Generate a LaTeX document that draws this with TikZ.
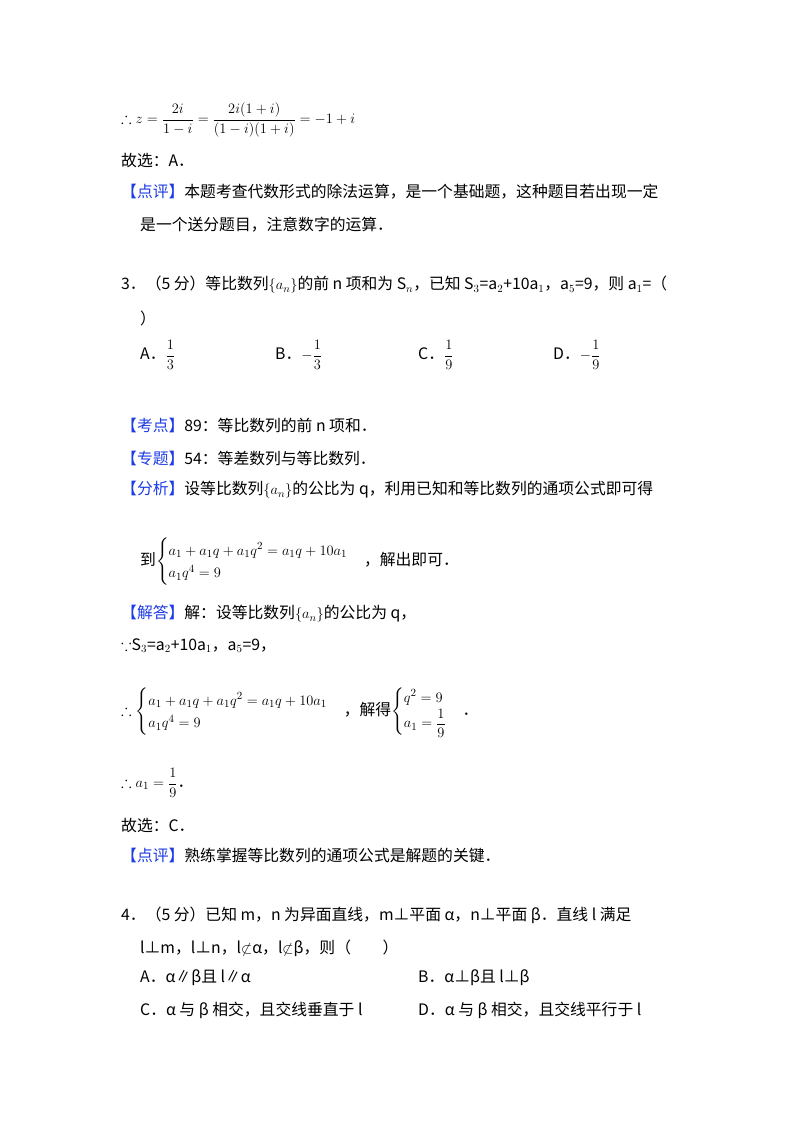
\documentclass[tikz,border=0pt]{standalone}
\usepackage{amsmath,amssymb}
\usepackage{fontspec}
\setmainfont{Noto Sans CJK SC}
\usepackage{xcolor}
\definecolor{lbl}{RGB}{30,60,230}
\begin{document}
\begin{tikzpicture}[x=1pt,y=-1pt,t/.style={anchor=west,inner sep=0pt,font=\fontsize{15.8}{19}\selectfont}]
\useasboundingbox[fill=white] (0,0) rectangle (800,1133);
\node[t] (l1) at (121,120) {$\therefore z=\dfrac{2i}{1-i}=\dfrac{2i(1+i)}{(1-i)(1+i)}=-1+i$};
\node[t] (l2) at (121,160) {故选：A．};
\node[t] (l3) at (121,192) {\textcolor{lbl}{【点评】}本题考查代数形式的除法运算，是一个基础题，这种题目若出现一定};
\node[t] (l4) at (140,225) {是一个送分题目，注意数字的运算．};
\node[t] (q3) at (121,285) {3．（5 分）等比数列$\{a_n\}$的前 n 项和为 S$_n$，已知 S$_3$=a$_2$+10a$_1$，a$_5$=9，则 a$_1$=（};
\node[t] (q3b) at (140,318) {）};
\node[t] (oA) at (140,355) {A．$\dfrac13$};
\node[t] (oB) at (275,355) {B．$-\dfrac13$};
\node[t] (oC) at (418,355) {C．$\dfrac19$};
\node[t] (oD) at (553,355) {D．$-\dfrac19$};
\node[t] (k1) at (121,425) {\textcolor{lbl}{【考点】}89：等比数列的前 n 项和．};
\node[t] (k2) at (121,458) {\textcolor{lbl}{【专题】}54：等差数列与等比数列．};
\node[t] (k3) at (121,490) {\textcolor{lbl}{【分析】}设等比数列$\{a_n\}$的公比为 q，利用已知和等比数列的通项公式即可得};
\node[t] (k4) at (140,562) {到$\begin{cases}a_1+a_1q+a_1q^2=a_1q+10a_1\\ a_1q^4=9\end{cases}$，解出即可．};
\node[t] (s1) at (121,614) {\textcolor{lbl}{【解答】}解：设等比数列$\{a_n\}$的公比为 q，};
\node[t] (s2) at (121,646) {$\because$S$_3$=a$_2$+10a$_1$，a$_5$=9，};
\node[t] (s3) at (121,712) {$\therefore\begin{cases}a_1+a_1q+a_1q^2=a_1q+10a_1\\ a_1q^4=9\end{cases}$，解得$\begin{cases}q^2=9\\ a_1=\dfrac19\end{cases}$．};
\node[t] (s4) at (121,783) {$\therefore a_1=\dfrac19$．};
\node[t] (s5) at (121,825) {故选：C．};
\node[t] (s6) at (121,855) {\textcolor{lbl}{【点评】}熟练掌握等比数列的通项公式是解题的关键．};
\node[t] (q4) at (121,915) {4．（5 分）已知 m，n 为异面直线，m⊥平面 α，n⊥平面 β．直线 l 满足};
\node[t] (q4b) at (140,948) {l⊥m，l⊥n，l$\not\subset$α，l$\not\subset$β，则（　　）};
\node[t] (o4A) at (140,978) {A．α∥β且 l∥α};
\node[t] (o4B) at (418,978) {B．α⊥β且 l⊥β};
\node[t] (o4C) at (140,1010) {C．α 与 β 相交，且交线垂直于 l};
\node[t] (o4D) at (418,1010) {D．α 与 β 相交，且交线平行于 l};
\end{tikzpicture}
\end{document}
